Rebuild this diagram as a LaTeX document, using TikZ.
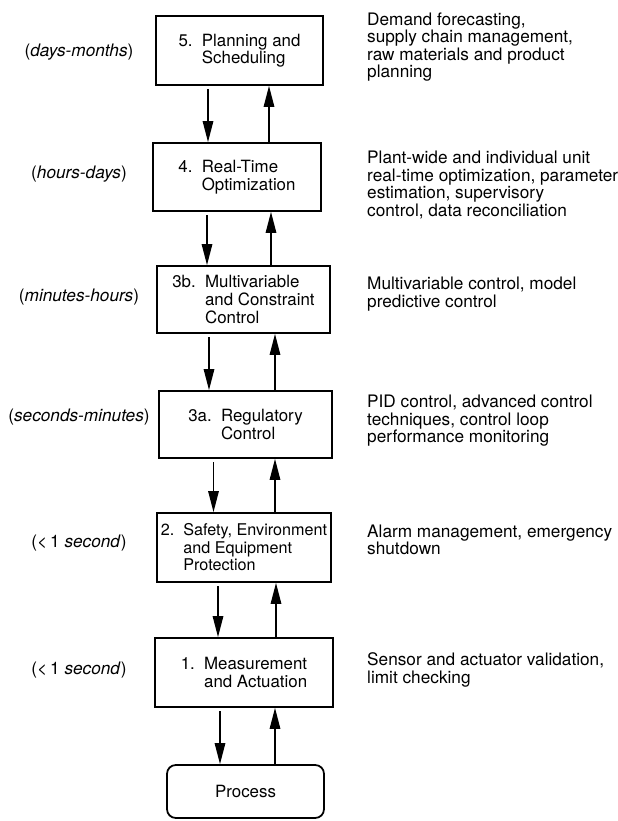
\documentclass[tikz,border=0pt]{standalone}
\usepackage{fontspec}
\setmainfont{TeX Gyre Heros}
\usepackage{tikz}
\usetikzlibrary{arrows.meta,positioning}

\tikzset{
  niveau/.style={draw,line width=1pt,inner sep=2pt,align=left,
    font=\fontsize{9.6}{10}\selectfont},
  procede/.style={niveau,rounded corners=5pt,align=center},
  echelle/.style={font=\fontsize{9.8}{10}\selectfont},
  tache/.style={anchor=west,align=left,font=\fontsize{9.8}{10}\selectfont},
  descente/.style={-{Triangle[length=12pt,width=6pt]},line width=0.8pt,shorten <=2pt},
  montee/.style={-{Triangle[length=12pt,width=6pt]},line width=0.8pt}
}
\newcommand\rg[1]{#1\hspace{0.55em}}
\newcommand\rgv[1]{\hphantom{#1\hspace{0.55em}}}

\begin{document}
\begin{tikzpicture}
  \useasboundingbox (0,0) rectangle (12.36,16.42);
  % niveaux
  \node[niveau,minimum width=3.34cm,minimum height=1.38cm] (b5) at (4.79,15.41)
    {\rg{5.}Planning and\\\rgv{5.}Scheduling};
  \node[niveau,minimum width=3.36cm,minimum height=1.36cm] (b4) at (4.74,12.88)
    {\rg{4.}Real-Time\\\rgv{4.}Optimization};
  \node[niveau,minimum width=3.46cm,minimum height=1.34cm] (b3b) at (4.87,10.43)
    {\rg{3b.}Multivariable\\\rgv{3b.}and Constraint\\\rgv{3b.}Control};
  \node[niveau,minimum width=3.46cm,minimum height=1.34cm] (b3a) at (4.91,7.93)
    {\rg{3a.}Regulatory\\\rgv{3a.}Control};
  \node[niveau,minimum width=3.48cm,minimum height=1.38cm,inner sep=1pt,
    font=\fontsize{9.2}{10}\selectfont] (b2) at (4.88,5.47)
    {\rg{2.}Safety, Environment\\\rgv{2.}and Equipment\\\rgv{2.}Protection};
  \node[niveau,minimum width=3.56cm,minimum height=1.38cm] (b1) at (4.88,2.97)
    {\rg{1.}Measurement\\\rgv{1.}and Actuation};
  \node[procede,minimum width=3.14cm,minimum height=1.06cm] (proc) at (4.91,0.59) {Process};

  % echelles de temps
  \node[echelle] (t5) at (1.58,15.38) {(\textit{days-months})};
  \node[echelle] (t4) at (1.58,12.94) {(\textit{hours-days})};
  \node[echelle] (t3b) at (1.58,10.48) {(\textit{minutes-hours})};
  \node[echelle] (t3a) at (1.58,8.08) {(\textit{seconds-minutes})};
  \node[echelle] (t2) at (1.58,5.56) {(<\,1 \textit{second})};
  \node[echelle] (t1) at (1.58,3.02) {(<\,1 \textit{second})};

  % fonctions
  \node[tache] (f5) at (7.22,15.48)
    {Demand forecasting,\\supply chain management,\\raw materials and product\\planning};
  \node[tache] (f4) at (7.22,12.72)
    {Plant-wide and individual unit\\real-time optimization, parameter\\estimation, supervisory\\control, data reconciliation};
  \node[tache] (f3b) at (7.22,10.54) {Multivariable control, model\\predictive control};
  \node[tache] (f3a) at (7.22,8.0)
    {PID control, advanced control\\techniques, control loop\\performance monitoring};
  \node[tache] (f2) at (7.22,5.62) {Alarm management, emergency\\shutdown};
  \node[tache] (f1) at (7.22,3.02) {Sensor and actuator validation,\\limit checking};

  % fleches
  \foreach \h/\b/\xd/\xu in {b5/b4/4.16/5.38, b4/b3b/4.14/5.42, b3b/b3a/4.18/5.50,
                             b3a/b2/4.27/5.50, b2/b1/4.36/5.52, b1/proc/4.40/5.50}{
    \coordinate (d) at (\xd,0);
    \coordinate (m) at (\xu,0);
    \draw[descente] (d |- \h.south) -- (d |- \b.north);
    \draw[montee] (m |- \b.north) -- (m |- \h.south);}
\end{tikzpicture}
\end{document}
